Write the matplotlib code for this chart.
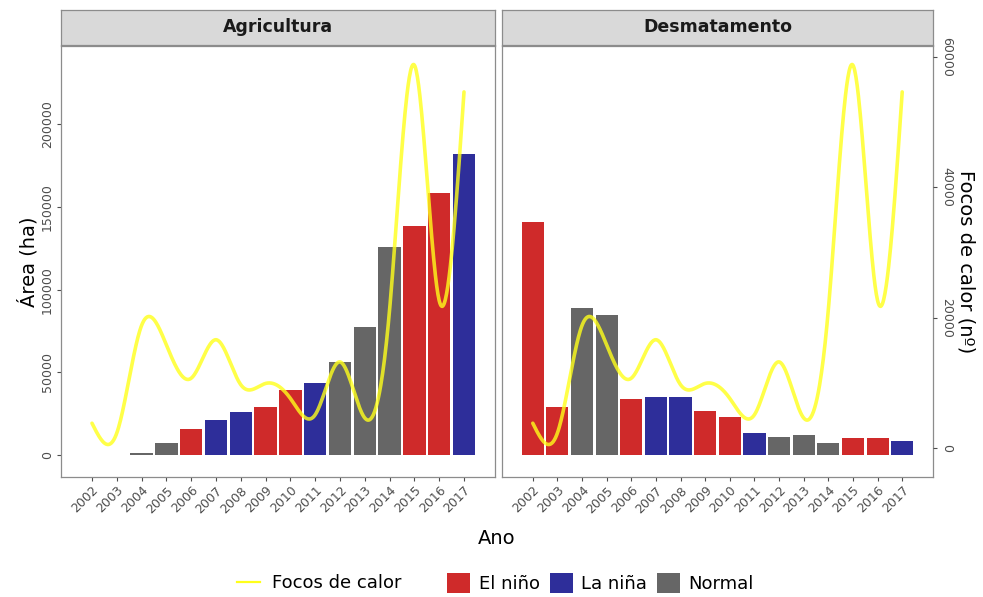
import matplotlib
matplotlib.use("Agg")
import matplotlib.pyplot as plt
import numpy as np
from matplotlib.lines import Line2D
from matplotlib.patches import Patch

# dados
anos = np.arange(2002, 2018)
fase = ["El niño", "El niño", "Normal", "Normal", "El niño", "La niña", "La niña", "El niño",
        "El niño", "La niña", "Normal", "Normal", "Normal", "El niño", "El niño", "La niña"]
agricultura = [0, 0, 1200, 7100, 15500, 21200, 25800, 29200,
               39300, 43700, 56400, 77600, 125900, 138400, 158600, 181800]
desmatamento = [141000, 29200, 89000, 84600, 33700, 35300, 35300, 26600,
                23200, 13100, 11100, 12100, 7400, 10100, 10100, 8700]
focos = [3800, 2300, 18800, 15800, 10700, 16600, 9700, 9900,
         7600, 5100, 13200, 4600, 21200, 58700, 22600, 54600]

cores = {"El niño": "#CF2A2A", "La niña": "#2E2E9A", "Normal": "#666666"}
amarelo = "#FFFF1A"
borda = "#8C8C8C"


def spline_natural(x, y, n=600):
    # spline cúbica natural para suavizar a linha de focos
    x = np.asarray(x, float)
    y = np.asarray(y, float)
    h = np.diff(x)
    m = len(x)
    A = np.zeros((m, m))
    b = np.zeros(m)
    A[0, 0] = A[-1, -1] = 1
    for i in range(1, m - 1):
        A[i, i - 1] = h[i - 1]
        A[i, i] = 2 * (h[i - 1] + h[i])
        A[i, i + 1] = h[i]
        b[i] = 6 * ((y[i + 1] - y[i]) / h[i] - (y[i] - y[i - 1]) / h[i - 1])
    M = np.linalg.solve(A, b)
    xs = np.linspace(x[0], x[-1], n)
    idx = np.clip(np.searchsorted(x, xs) - 1, 0, m - 2)
    x0, x1 = x[idx], x[idx + 1]
    hh = x1 - x0
    ys = (M[idx] * (x1 - xs) ** 3 / (6 * hh) + M[idx + 1] * (xs - x0) ** 3 / (6 * hh)
          + (y[idx] / hh - M[idx] * hh / 6) * (x1 - xs)
          + (y[idx + 1] / hh - M[idx + 1] * hh / 6) * (xs - x0))
    return xs, ys


W, H = 983, 597
fig = plt.figure(figsize=(W / 100, H / 100), dpi=100)

paineis = [("Agricultura", agricultura, 61, 434), ("Desmatamento", desmatamento, 502, 431)]
topo, base = 46, 477
xs, ys = spline_natural(anos, focos)

for k, (titulo, valores, x0, w) in enumerate(paineis):
    ax = fig.add_axes([x0 / W, (H - base) / H, w / W, (base - topo) / H])
    ax.bar(anos, valores, width=0.9, color=[cores[f] for f in fase], zorder=2)
    ax.set_xlim(2000.75, 2018.25)
    ax.set_ylim(-13300, 247300)
    ax.set_xticks(anos)
    ax.set_xticklabels([str(a) for a in anos], rotation=45, ha="right",
                       rotation_mode="anchor", fontsize=9, color="#4D4D4D")
    ax.tick_params(axis="x", length=3, color="#4D4D4D", pad=2)
    for s in ax.spines.values():
        s.set_color(borda)
        s.set_linewidth(0.9)
    if k == 0:
        ax.set_yticks([0, 50000, 100000, 150000, 200000])
        ax.set_yticklabels(["0", "50000", "100000", "150000", "200000"], rotation=90,
                           va="center", fontsize=9, color="#4D4D4D")
        ax.tick_params(axis="y", length=3, color="#4D4D4D", pad=2)
        ax.set_ylabel("Área (ha)", fontsize=14, labelpad=2)
    else:
        ax.set_yticks([])

    ax2 = ax.twinx()
    ax2.plot(xs, ys, color=amarelo, lw=2.6, alpha=0.8, solid_capstyle="round", zorder=3)
    ax2.set_ylim(-4446, 61640)
    for s in ax2.spines.values():
        s.set_visible(False)
    if k == 1:
        ax2.set_yticks([0, 20000, 40000, 60000])
        ax2.set_yticklabels(["0", "20000", "40000", "60000"], rotation=-90,
                            va="center", fontsize=9, color="#4D4D4D")
        ax2.tick_params(axis="y", length=3, color="#4D4D4D", pad=2)
        ax2.set_ylabel("Focos de calor (nº)", fontsize=14, rotation=-90, labelpad=16)
    else:
        ax2.set_yticks([])

    # faixa do título do painel
    st = fig.add_axes([x0 / W, (H - 45) / H, w / W, 35 / H])
    st.set_facecolor("#D9D9D9")
    st.set_xticks([])
    st.set_yticks([])
    for s in st.spines.values():
        s.set_color(borda)
        s.set_linewidth(0.9)
    st.text(0.5, 0.5, titulo, ha="center", va="center", fontsize=12.5,
            fontweight="bold", color="#1A1A1A", transform=st.transAxes)

fig.text(497 / W, 1 - 539 / H, "Ano", ha="center", va="center", fontsize=14)

# duas legendas lado a lado: linha e preenchimento
fig.legend([Line2D([0], [0], color=amarelo, lw=1.6)], ["Focos de calor"],
           loc="center left", bbox_to_anchor=(237 / W, 1 - 583 / H),
           frameon=False, fontsize=13, handlelength=1.3, handletextpad=0.65,
           borderpad=0, borderaxespad=0)
fig.legend([Patch(facecolor=cores[c]) for c in ["El niño", "La niña", "Normal"]],
           ["El niño", "La niña", "Normal"], ncol=3,
           loc="center left", bbox_to_anchor=(447 / W, 1 - 583 / H),
           frameon=False, fontsize=13, handlelength=1.3, handleheight=1.3,
           handletextpad=0.45, columnspacing=0.55, borderpad=0, borderaxespad=0)

fig.savefig("out.png", dpi=100)
